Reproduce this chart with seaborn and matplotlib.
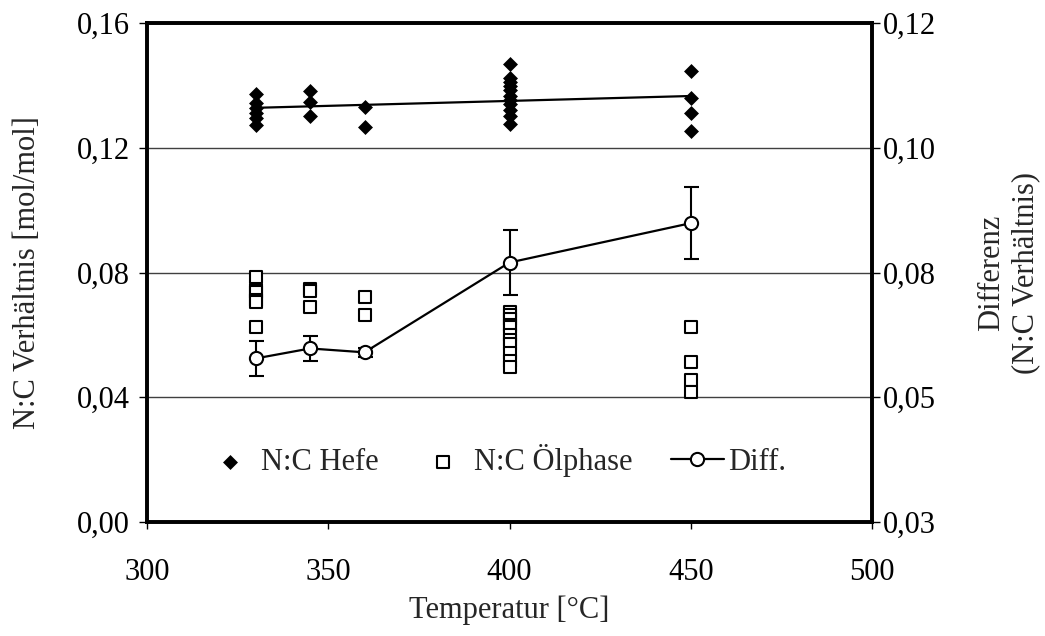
import matplotlib
matplotlib.use("Agg")
import matplotlib.pyplot as plt
import seaborn as sns
import pandas as pd
from matplotlib.ticker import FuncFormatter

# ---------------- data ----------------
hefe_temp = [330, 330, 330, 330, 330, 330,
             345, 345, 345,
             360, 360,
             400, 400, 400, 400, 400, 400, 400, 400, 400, 400, 400,
             450, 450, 450, 450]
hefe_nc = [0.1372, 0.1343, 0.1327, 0.1311, 0.1295, 0.1273,
           0.1383, 0.1346, 0.1302,
           0.1330, 0.1268,
           0.1468, 0.1423, 0.1410, 0.1397, 0.1385, 0.1365, 0.1352, 0.1339, 0.1320, 0.1301, 0.1275,
           0.1447, 0.1360, 0.1310, 0.1255]

oel_temp = [330, 330, 330, 330, 330, 330,
            345, 345, 345,
            360, 360,
            400, 400, 400, 400, 400, 400, 400, 400, 400, 400, 400,
            450, 450, 450, 450]
oel_nc = [0.0786, 0.0745, 0.0738, 0.0712, 0.0706, 0.0626,
          0.0746, 0.0742, 0.0689,
          0.0721, 0.0665,
          0.0672, 0.0665, 0.0650, 0.0632, 0.0625, 0.0600, 0.0585, 0.0570, 0.0542, 0.0516, 0.0498,
          0.0626, 0.0512, 0.0454, 0.0418]

diff_temp = [330, 345, 360, 400, 450]
diff_val = [0.0595, 0.0613, 0.0606, 0.0768, 0.0839]
diff_err = [0.0031, 0.0023, 0.0008, 0.0058, 0.0065]

x_ticks = [300, 350, 400, 450, 500]
left_ticks = [0.00, 0.04, 0.08, 0.12, 0.16]
right_ticks = [0.03, 0.0525, 0.075, 0.0975, 0.12]
right_tick_labels = ["0,03", "0,05", "0,08", "0,10", "0,12"]

labels = ["N:C Hefe", "N:C Ölphase", "Diff."]

# ---------------- style ----------------
sns.set_style("white")
plt.rcParams["font.family"] = ["Liberation Serif", "DejaVu Serif"]
FS = 22

df_hefe = pd.DataFrame({"T": hefe_temp, "NC": hefe_nc})
df_oel = pd.DataFrame({"T": oel_temp, "NC": oel_nc})
df_diff = pd.DataFrame({"T": diff_temp, "D": diff_val, "err": diff_err})

fig = plt.figure(figsize=(10.45, 6.36), dpi=100)
ax = fig.add_axes([147 / 1045, 1 - 522 / 636, (872 - 147) / 1045, (522 - 23) / 636])

# trend line of Hefe
sns.regplot(data=df_hefe, x="T", y="NC", scatter=False, ci=None, truncate=True,
            color="black", line_kws={"lw": 1.6}, ax=ax)
sns.scatterplot(data=df_hefe, x="T", y="NC", marker="D", s=58, color="black",
                linewidth=0, label=labels[0], ax=ax, zorder=3)
sns.scatterplot(data=df_oel, x="T", y="NC", marker="s", s=80, facecolor="white",
                edgecolor="black", linewidth=1.5, label=labels[1], ax=ax, zorder=3)

ax2 = ax.twinx()
ax2.errorbar(df_diff["T"], df_diff["D"], yerr=df_diff["err"], fmt="none",
             ecolor="black", elinewidth=1.5, capsize=5.4, capthick=1.5, zorder=2)
sns.lineplot(data=df_diff, x="T", y="D", marker="o", markersize=9.5,
             markerfacecolor="white", markeredgecolor="black", markeredgewidth=1.5,
             color="black", lw=1.6, label=labels[2], ax=ax2, zorder=4)

for a in (ax, ax2):
    lg = a.get_legend()
    if lg is not None:
        lg.remove()

# axes limits & ticks
ax.set_xlim(300, 500)
ax.set_xticks(x_ticks)
ax.set_ylim(0, 0.16)
ax.set_yticks(left_ticks)
ax.yaxis.set_major_formatter(FuncFormatter(lambda v, p: f"{v:.2f}".replace(".", ",")))
ax2.set_ylim(0.03, 0.12)
ax2.set_yticks(right_ticks)
ax2.set_yticklabels(right_tick_labels)
ax2.set_xlim(300, 500)

ax.yaxis.grid(True, color="#404040", lw=1)
ax.xaxis.grid(False)
ax.set_axisbelow(True)

ax.tick_params(axis="y", direction="out", length=6, width=1, pad=6.5,
               labelsize=FS, left=True, right=False, colors="black")
ax.tick_params(axis="x", direction="out", length=5, width=1, pad=21,
               labelsize=FS, bottom=True, top=False, colors="black")
ax2.tick_params(axis="y", direction="out", length=6, width=1, pad=2,
                labelsize=FS, right=True, left=False, colors="black")

for a in (ax, ax2):
    for s in a.spines.values():
        s.set_linewidth(2.6)
        s.set_color("black")

ax.set_xlabel("Temperatur [°C]", fontsize=FS)
ax.xaxis.set_label_coords(0.5, -0.148)
ax.set_ylabel("N:C Verhältnis [mol/mol]", fontsize=FS)
ax.yaxis.set_label_coords(-0.145, 0.5)
ax2.set_ylabel("Differenz\n(N:C Verhältnis)", fontsize=FS, linespacing=1.25)
ax2.yaxis.set_label_coords(1.145, 0.5)

h1, l1 = ax.get_legend_handles_labels()
h2, l2 = ax2.get_legend_handles_labels()
ax2.legend(h1 + h2, l1 + l2, loc="center left", bbox_to_anchor=(0.078, 0.124),
           ncol=3, frameon=False, handlelength=1.73, handletextpad=0.15,
           columnspacing=1.25, borderpad=0, borderaxespad=0, fontsize=FS,
           scatterpoints=1)

fig.savefig("out.png", dpi=100)
